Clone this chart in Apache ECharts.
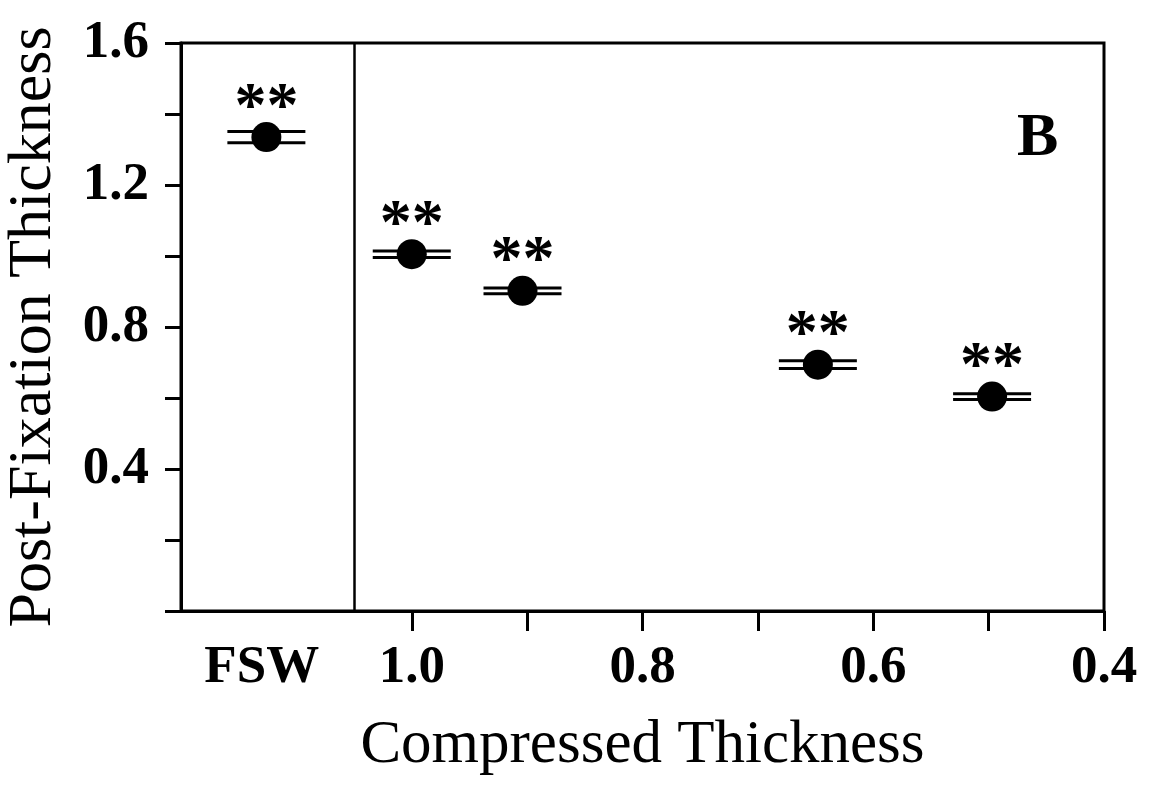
<!DOCTYPE html>
<html>
<head>
<meta charset="utf-8">
<style>html,body{margin:0;padding:0;background:#fff;}#chart{width:1150px;height:785px;}</style>
<script src="https://cdn.jsdelivr.net/npm/echarts@6/dist/echarts.min.js"></script>
</head>
<body>
<div id="chart"></div>
<script>
// Data
const xValues = [1.126, 1.0, 0.904, 0.648, 0.497];   // compressed thickness (FSW shown at left)
const yValues = [1.335, 1.005, 0.902, 0.694, 0.604]; // post-fixation thickness
const errValues = [0.016, 0.009, 0.008, 0.011, 0.008];
const sigLabels = ['**', '**', '**', '**', '**'];
const fswPosition = 1.13;
const dividerValue = 1.055;
const xTickValues = [1.0, 0.9, 0.8, 0.7, 0.6, 0.5, 0.4];
const xLabelValues = [fswPosition, 1.0, 0.8, 0.6, 0.4];
const yTickValues = [0, 0.2, 0.4, 0.6, 0.8, 1.0, 1.2, 1.4, 1.6];
const yLabelValues = [0.4, 0.8, 1.2, 1.6];
const panelLabel = 'B';

const FONT = '"Liberation Serif", "Times New Roman", serif';
const chart = echarts.init(document.getElementById('chart'));

const pointData = xValues.map((x, i) => [x, yValues[i], errValues[i], sigLabels[i]]);

chart.setOption({
  backgroundColor: '#fff',
  animation: false,
  grid: { left: 181, right: 46, top: 43, bottom: 174, show: true, borderColor: '#000', borderWidth: 3, backgroundColor: 'transparent', containLabel: false, outerBoundsMode: 'none' },
  xAxis: {
    type: 'value', min: 0.4, max: 1.2, inverse: true,
    name: 'Compressed Thickness', nameLocation: 'middle', nameGap: 104,
    nameTextStyle: { fontFamily: FONT, fontSize: 61, color: '#000' },
    axisLine: { show: true, lineStyle: { color: '#000', width: 3 } },
    axisTick: { show: true, customValues: xTickValues, length: 20, lineStyle: { color: '#000', width: 3 } },
    axisLabel: {
      customValues: xLabelValues, margin: 31,
      fontFamily: FONT, fontSize: 53, fontWeight: 'bold', color: '#000',
      formatter: v => (Math.abs(v - fswPosition) < 1e-6 ? 'FSW' : v.toFixed(1))
    },
    splitLine: { show: false }
  },
  yAxis: {
    type: 'value', min: 0, max: 1.6,
    name: 'Post-Fixation Thickness', nameLocation: 'middle', nameGap: 116,
    nameTextStyle: { fontFamily: FONT, fontSize: 62, color: '#000' },
    axisLine: { show: true, lineStyle: { color: '#000', width: 3 } },
    axisTick: { show: true, customValues: yTickValues, length: 16, lineStyle: { color: '#000', width: 3 } },
    axisLabel: {
      customValues: yLabelValues, margin: 32,
      fontFamily: FONT, fontSize: 53, fontWeight: 'bold', color: '#000',
      formatter: v => v.toFixed(1)
    },
    splitLine: { show: false }
  },
  series: [
    {
      type: 'custom',
      renderItem: function (params, api) {
        const x = api.value(0), y = api.value(1), e = api.value(2);
        const top = api.coord([x, y + e]);
        const bot = api.coord([x, y - e]);
        const hw = 39;
        const style = { stroke: '#000', lineWidth: 3 };
        return {
          type: 'group',
          children: [
            { type: 'line', shape: { x1: top[0] - hw, y1: top[1], x2: top[0] + hw, y2: top[1] }, style },
            { type: 'line', shape: { x1: bot[0] - hw, y1: bot[1], x2: bot[0] + hw, y2: bot[1] }, style }
          ]
        };
      },
      data: pointData,
      z: 2
    },
    {
      type: 'scatter',
      symbol: 'circle', symbolSize: 30,
      itemStyle: { color: '#000', opacity: 1 },
      label: {
        show: true, position: 'top', distance: 0, offset: [0, 19],
        formatter: p => p.data[3],
        fontFamily: FONT, fontSize: 64, fontWeight: 'bold', color: '#000', opacity: 1, letterSpacing: 3
      },
      emphasis: { disabled: true },
      data: pointData,
      markLine: {
        silent: true, symbol: 'none', label: { show: false },
        lineStyle: { color: '#000', width: 2.5, type: 'solid', opacity: 1 },
        data: [{ xAxis: dividerValue }]
      },
      z: 3
    }
  ],
  graphic: [
    { type: 'text', left: 1017, top: 108, style: { text: panelLabel, fontFamily: FONT, fontSize: 62, fontWeight: 'bold', fill: '#000' } }
  ]
});
</script>
</body>
</html>
